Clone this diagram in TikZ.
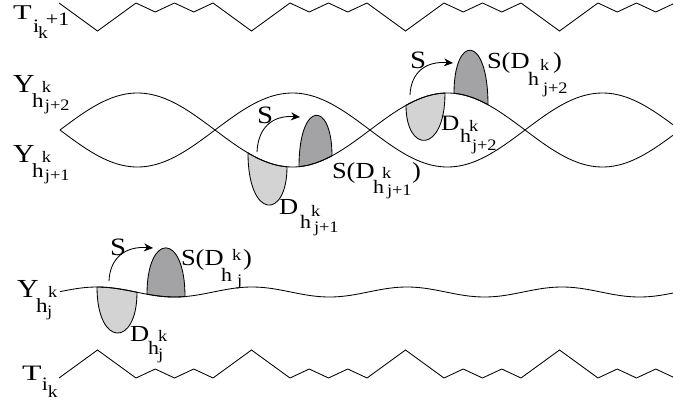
\documentclass[tikz,border=0pt]{standalone}
\usepackage{fontspec}
\setmainfont[FakeStretch=1.15]{Liberation Serif}
\usepackage{graphicx}
\usetikzlibrary{arrows.meta}
\definecolor{lightg}{RGB}{211,211,211}
\definecolor{darkg}{RGB}{163,163,166}
\newcommand\fs[1]{\fontsize{#1}{#1}\selectfont}
\newcommand\pc[4]{\rlap{\kern#1pt\raisebox{#2pt}{\fs{#3}#4}}}
\begin{document}
\begin{tikzpicture}[x=1pt,y=-1pt,
  declare function={la(\t)=130-37*sin(1.16129*(\t-60));
                    lb(\t)=130+37*sin(1.16129*(\t-60));
                    wv(\t)=292-5*cos(2.32258*(\t-97));},
  curve/.style={line width=0.85pt},
  lightlobe/.style={fill=lightg,draw=black,line width=0.85pt},
  darklobe/.style={fill=darkg,draw=black,line width=0.85pt},
  sarrow/.style={line width=0.85pt,-{Stealth[length=9pt,width=8pt]}},
  lbl/.style={anchor=base west,inner sep=0pt,outer sep=0pt}]
\useasboundingbox (0,0) rectangle (673,405);

% lobes on the wavy line
\filldraw[lightlobe] plot[domain=97:137,samples=25] (\x,{wv(\x)}) .. controls (137,347.5) and (97,347.5) .. (97,{wv(97)}) -- cycle;
\filldraw[darklobe] plot[domain=147:185,samples=25] (\x,{wv(\x)}) .. controls (185,232) and (147,232) .. (147,{wv(147)}) -- cycle;
% lobes on the middle lens
\filldraw[lightlobe] plot[domain=248:287,samples=25] (\x,{la(\x)}) .. controls (287,220) and (248,220) .. (248,{la(248)}) -- cycle;
\filldraw[darklobe] plot[domain=299:332,samples=25] (\x,{la(\x)}) .. controls (332,100) and (299,100) .. (299,{la(299)}) -- cycle;
% lobes on the right lens
\filldraw[lightlobe] plot[domain=406:445,samples=25] (\x,{la(\x)}) .. controls (445,154) and (406,154) .. (406,{la(406)}) -- cycle;
\filldraw[darklobe] plot[domain=454:488,samples=25] (\x,{la(\x)}) .. controls (488,34) and (454,34) .. (454,{la(454)}) -- cycle;

% zigzag top
\draw[curve,line join=miter] (59,3) foreach \k in {1,...,4} {-- ++(38.5,28) -- ++(38.5,-28) -- ++(19.25,9) -- ++(19.25,-9) -- ++(19.25,9) -- ++(19.25,-9)};
% zigzag bottom
\draw[curve,line join=miter] (59,378) foreach \k in {1,...,4} {-- ++(38.5,-28) -- ++(38.5,28) -- ++(19.25,-9) -- ++(19.25,9) -- ++(19.25,-9) -- ++(19.25,9)};
% lens curves
\draw[curve] plot[domain=60:673,samples=240] (\x,{la(\x)});
\draw[curve] plot[domain=60:673,samples=240] (\x,{lb(\x)});
% wavy line
\draw[curve] plot[domain=60:673,samples=200] (\x,{wv(\x)});

% S arrows
\coordinate (a0s) at (109,281); \coordinate (a0e) at (153,248);
\coordinate (a1s) at (257,152); \coordinate (a1e) at (300,117);
\coordinate (a2s) at (410,95);  \coordinate (a2e) at (453,63);
\draw[sarrow] (a0s) .. controls +(1,-23) and +(-28,-2) .. (a0e);
\draw[sarrow] (a1s) .. controls +(1,-24) and +(-28,-2) .. (a1e);
\draw[sarrow] (a2s) .. controls +(1,-23) and +(-27,-2) .. (a2e);

% labels
\node[lbl] (t1) at (13,19) {\pc{0}{0}{21}{\scalebox{1.26}[1]{T}}\pc{20}{-13}{19}{i}\pc{25}{-19}{17}{k}\pc{33}{-6}{19}{+1}\hspace*{54pt}};
\node[lbl] (y2) at (13,92) {\pc{0}{0}{26}{Y}\pc{19}{-15}{20}{h}\pc{29}{0}{16}{k}\pc{32}{-18}{16}{j+2}\hspace*{57pt}};
\node[lbl] (y1) at (13,162) {\pc{0}{0}{26}{Y}\pc{19}{-15}{20}{h}\pc{29}{0}{16}{k}\pc{32}{-18}{16}{j+1}\hspace*{57pt}};
\node[lbl] (y0) at (17,297) {\pc{0}{0}{26}{Y}\pc{19}{-15}{20}{h}\pc{31}{0}{16}{k}\pc{30}{-19}{16}{j}\hspace*{41pt}};
\node[lbl] (t0) at (22,380) {\pc{0}{0}{22}{\scalebox{1.26}[1]{T}}\pc{20}{-10}{19}{i}\pc{26}{-17}{17}{k}\hspace*{33pt}};

\node[lbl] (s0) at (110,255) {\fs{25}S};
\node[lbl] (s1) at (257,123) {\fs{25}S};
\node[lbl] (s2) at (410,68) {\fs{25}S};

\node[lbl] (sd0) at (181,265) {\pc{0}{0}{23}{S(D}\pc{40}{-16}{19}{h}\pc{51}{5}{16}{k}\pc{56}{-20}{16}{j}\pc{62}{0}{23}{)}\hspace*{70pt}};
\node[lbl] (sd1) at (332,178) {\pc{0}{0}{23}{S(D}\pc{41}{-15}{19}{h}\pc{50}{0}{16}{k}\pc{55}{-17}{16}{j+1}\pc{80}{0}{23}{)}\hspace*{88pt}};
\node[lbl] (sd2) at (487,68) {\pc{0}{0}{23}{S(D}\pc{41}{-17}{19}{h}\pc{53}{-2}{16}{k}\pc{56}{-25}{16}{j+2}\pc{66}{0}{23}{)}\hspace*{81pt}};

\node[lbl] (d0) at (130,341) {\pc{0}{0}{23}{D}\pc{18}{-13}{19}{h}\pc{28}{0}{16}{k}\pc{28}{-18}{16}{j}\hspace*{38pt}};
\node[lbl] (d1) at (279,214) {\pc{0}{0}{23}{D}\pc{21}{-14}{19}{h}\pc{32}{-2}{16}{k}\pc{35}{-18}{16}{j+1}\hspace*{60pt}};
\node[lbl] (d2) at (441,130) {\pc{0}{0}{22}{D}\pc{19}{-12}{19}{h}\pc{28}{-1}{16}{k}\pc{31}{-20}{16}{j+2}\hspace*{57pt}};
\end{tikzpicture}
\end{document}
